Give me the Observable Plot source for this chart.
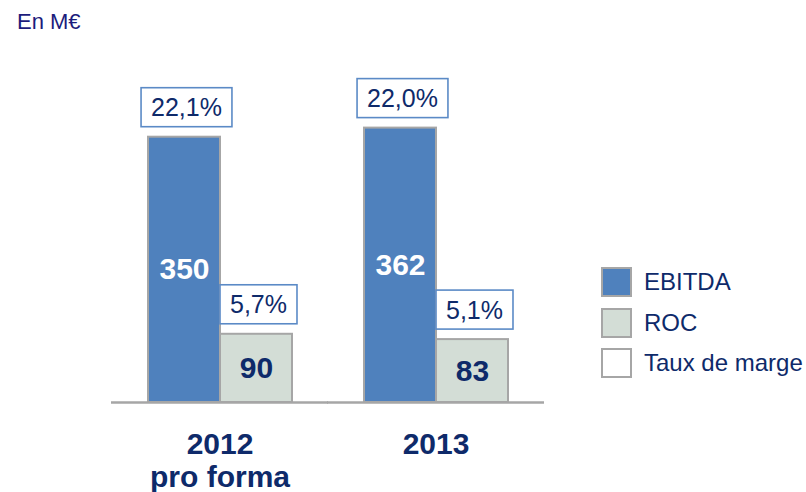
<!DOCTYPE html>
<html>
<head>
<meta charset="utf-8">
<script src="https://cdn.jsdelivr.net/npm/d3@7"></script>
<script src="https://cdn.jsdelivr.net/npm/@observablehq/plot@0.6"></script>
<style>
  html, body { margin: 0; padding: 0; background: #fff; }
  #chart { position: relative; width: 806px; height: 492px; font-family: "Liberation Sans", Arial, sans-serif; }
  #chart svg { position: absolute; left: 0; top: 0; }
  #unit { position: absolute; left: 17px; top: 10.5px; font-size: 22px; line-height: 22px; color: #1c1c7c; }
  #legend { position: absolute; left: 601px; top: 267px; }
  .item { display: flex; align-items: center; height: 30px; margin-bottom: 10.5px; }
  .sw { width: 31px; height: 30px; box-sizing: border-box; border: 2px solid #a6a6a6; }
  .lab { margin-left: 12px; font-size: 24px; color: #0e2a6a; white-space: nowrap; }
</style>
</head>
<body>
<div id="chart">
  <div id="unit">En M€</div>
  <div id="legend"></div>
</div>
<script>
// ---- data ----
const years = ["2012", "2013"];
const yearLabels = ["2012\npro forma", "2013"];
const series = ["EBITDA", "ROC"];
const ebitda = [350, 362];
const roc = [90, 83];
const ebitdaMargin = ["22,1%", "22,0%"];
const rocMargin = ["5,7%", "5,1%"];
const legendLabels = ["EBITDA", "ROC", "Taux de marge"];
const seriesColors = ["#4f81bd", "#d3ddd6"];
const marginBoxColor = "#ffffff";

const navy = "#0e2a6a";

const rows = [];
years.forEach((y, i) => {
  rows.push({year: y, series: "EBITDA", value: ebitda[i], margin: ebitdaMargin[i]});
  rows.push({year: y, series: "ROC", value: roc[i], margin: rocMargin[i]});
});

const chart = Plot.plot({
  width: 806,
  height: 492,
  marginLeft: 146,
  marginRight: 297,
  marginTop: 23,
  marginBottom: 90,
  style: {fontFamily: '"Liberation Sans", Arial, sans-serif', background: "transparent"},
  fx: {domain: years, paddingInner: 0.327, paddingOuter: 0, axis: null, label: null},
  x: {domain: series, padding: 0, axis: null, label: null},
  y: {domain: [0, 500], axis: null},
  color: {domain: series, range: seriesColors},
  marks: [
    Plot.barY(rows, {fx: "year", x: "series", y: "value", fill: "series", stroke: "#a6a6a6", strokeWidth: 2}),
    Plot.ruleY([0], {stroke: "#a6a6a6", strokeWidth: 2.5, insetLeft: -36, insetRight: -36}),
    Plot.text(rows, {
      fx: "year", x: "series", y: d => d.value / 2, text: d => String(d.value),
      fill: d => d.series === "EBITDA" ? "#ffffff" : navy,
      fontWeight: "bold", fontSize: 30
    }),
    Plot.text(rows, {
      fx: "year", x: "series", y: "value", text: "margin", dy: -29, dx: 2,
      fill: navy, fontSize: 25
    }),
    Plot.text(years, {
      fx: d => d, text: (d, i) => yearLabels[i], frameAnchor: "bottom", lineAnchor: "top",
      dy: 28, fill: navy, fontSize: 30, fontWeight: "bold", lineHeight: 1.1
    })
  ]
});

const root = document.getElementById("chart");
root.insertBefore(chart, root.firstChild);

// boxes behind the margin labels, sized from the rendered text
const marginSet = new Set([...ebitdaMargin, ...rocMargin]);
Array.from(chart.querySelectorAll("text"))
  .filter(t => marginSet.has(t.textContent.trim()))
  .forEach(t => {
    const b = t.getBBox();
    const cy = b.y + b.height / 2;
    const r = document.createElementNS("http://www.w3.org/2000/svg", "rect");
    r.setAttribute("x", b.x - 10);
    r.setAttribute("y", cy - 19.5);
    r.setAttribute("width", b.width + 20);
    r.setAttribute("height", 39);
    r.setAttribute("fill", marginBoxColor);
    r.setAttribute("stroke", "#5b8ac6");
    r.setAttribute("stroke-width", 1.6);
    const tr = t.getAttribute("transform");
    if (tr) r.setAttribute("transform", tr);
    t.parentNode.insertBefore(r, t);
  });

// legend
const legendFills = [...seriesColors, marginBoxColor];
const legend = document.getElementById("legend");
legendLabels.forEach((l, i) => {
  const item = document.createElement("div");
  item.className = "item";
  const sw = document.createElement("div");
  sw.className = "sw";
  sw.style.background = legendFills[i];
  const lab = document.createElement("div");
  lab.className = "lab";
  lab.textContent = l;
  item.appendChild(sw);
  item.appendChild(lab);
  legend.appendChild(item);
});
</script>
</body>
</html>
